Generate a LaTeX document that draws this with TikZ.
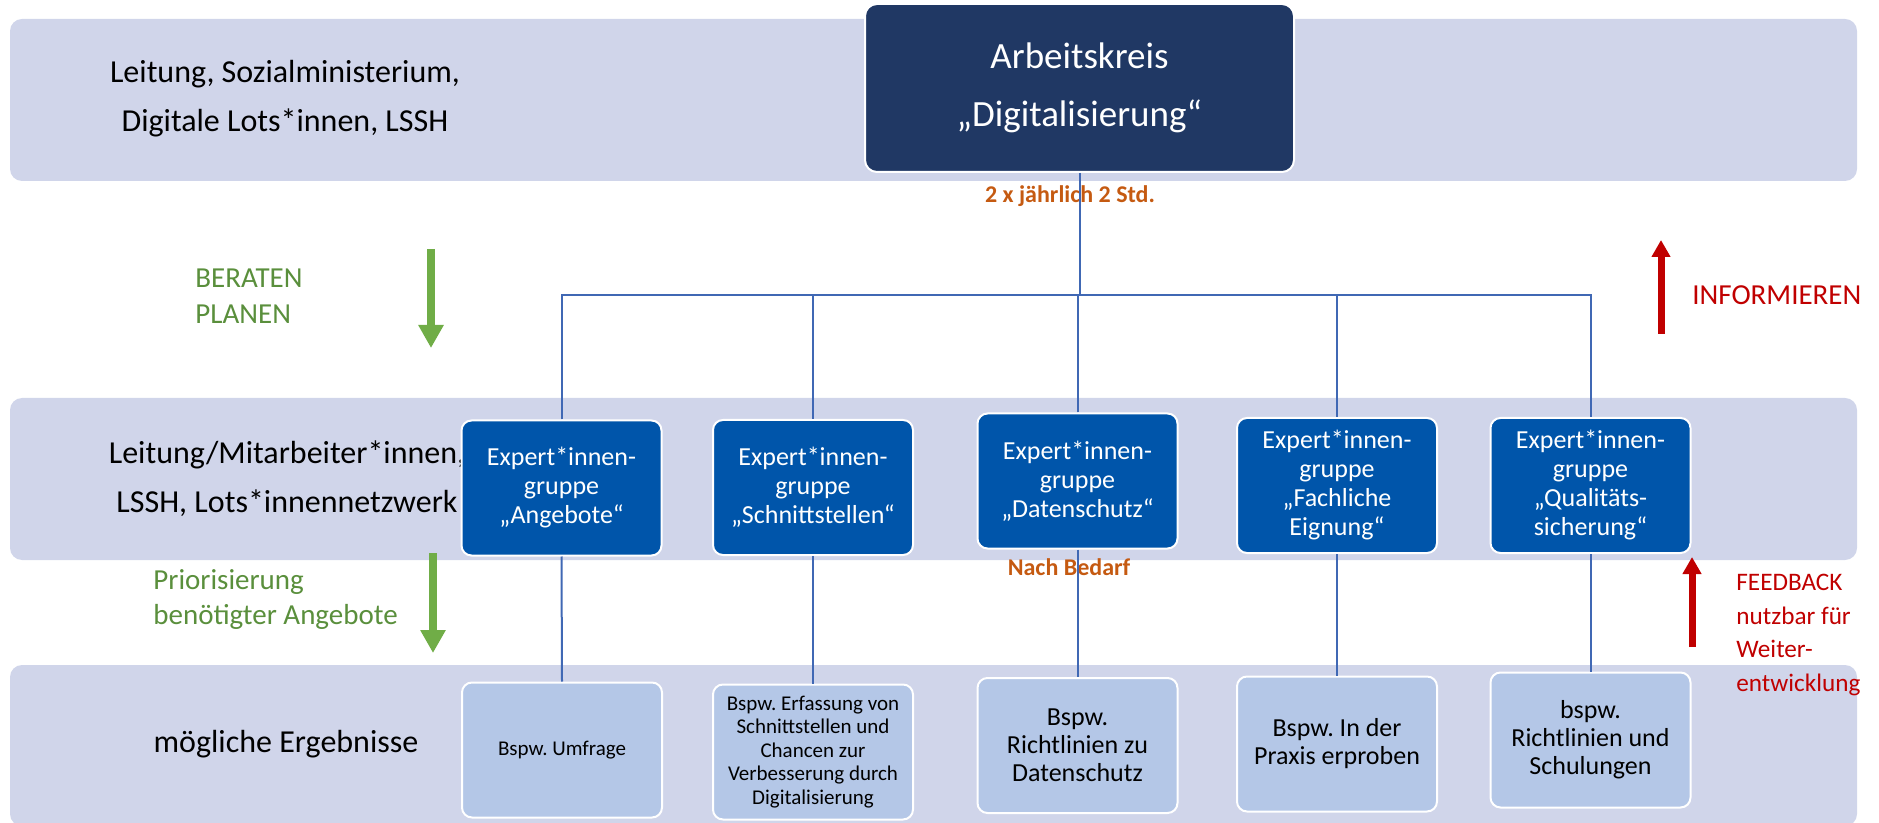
\documentclass[tikz,border=0pt]{standalone}
\usepackage{fontspec}
\setmainfont{Carlito}
\usetikzlibrary{arrows.meta}
\frenchspacing
\definecolor{bandc}{HTML}{D0D5EA}
\definecolor{akc}{HTML}{203864}
\definecolor{expc}{HTML}{0055AA}
\definecolor{resc}{HTML}{B4C7E7}
\definecolor{linec}{HTML}{4068B4}
\definecolor{greenarrow}{HTML}{70AD47}
\definecolor{greentext}{HTML}{5A8F3C}
\definecolor{redc}{HTML}{C00000}
\definecolor{orangec}{HTML}{C55A11}
\tikzset{
  band/.style={fill=bandc, draw=none, rounded corners=6pt},
  akbox/.style={fill=akc, draw=white, line width=1pt, rounded corners=6pt,
    minimum width=214.5pt, minimum height=84pt, inner sep=0pt, text=white,
    align=center, font=\fontsize{18.5}{29}\selectfont},
  expbox/.style={fill=expc, draw=white, line width=1pt, rounded corners=5pt,
    minimum width=100pt, minimum height=67.5pt, inner sep=0pt, text=white,
    align=center, font=\fontsize{13}{14.5}\selectfont},
  resbox/.style={fill=resc, draw=white, line width=1pt, rounded corners=5pt,
    minimum width=100pt, minimum height=67.5pt, inner sep=0pt, text=black,
    align=center, font=\fontsize{13}{14}\selectfont},
  ressmall/.style={font=\fontsize{10.5}{11.7}\selectfont},
  sidelabel/.style={align=center, text=black, font=\fontsize{16}{24.5}\selectfont},
  conn/.style={draw=linec, line width=1pt},
  greenlabel/.style={align=left, anchor=west, inner sep=0pt, text=greentext, font=\fontsize{14.5}{17.7}\selectfont},
  redlabel/.style={align=left, anchor=west, inner sep=0pt, text=redc, font=\fontsize{14.5}{16.7}\selectfont},
  feedlabel/.style={redlabel, font=\fontsize{12.6}{16.7}\selectfont},
  notelabel/.style={text=orangec, font=\bfseries\fontsize{12}{14}\selectfont},
  greenarr/.style={draw=greenarrow, line width=4pt, -{Triangle[width=12pt,length=11.5pt]}},
  redarr/.style={draw=redc, line width=3.5pt, -{Triangle[width=9pt,length=8.5pt]}}
}
\begin{document}
\begin{tikzpicture}[x=0.5pt, y=-0.5pt]
\useasboundingbox (0,0) rectangle (1879,823);
% bands
\fill[band] (10,19) rectangle (1857,181);
\fill[band] (10,398) rectangle (1857,560);
\fill[band] (10,665) rectangle (1857,826);

% side labels (drawn before boxes so boxes cover overhang)
\node[sidelabel] (lab1) at (285,99) {Leitung, Sozialministerium,\\Digitale Lots*innen, LSSH};
\node[sidelabel] (lab2) at (287,479) {Leitung/Mitarbeiter*innen,\\LSSH, Lots*innennetzwerk};
\node[sidelabel] (lab3) at (286,744) {mögliche Ergebnisse};

% notes
\node[notelabel] (freq) at (1070,196) {2 x jährlich 2 Std.};
\node[notelabel] (bedarf) at (1069,567) {Nach Bedarf};

% main box
\node[akbox] (ak) at (1079.5,88) {Arbeitskreis\\„Digitalisierung“};

% expert groups
\node[expbox] (e1) at (561.5,488) {Expert*innen-\\gruppe\\„Angebote“};
\node[expbox] (e2) at (813,487.5) {Expert*innen-\\gruppe\\„Schnittstellen“};
\node[expbox] (e3) at (1077.5,481) {Expert*innen-\\gruppe\\„Datenschutz“};
\node[expbox] (e4) at (1337,485.5) {Expert*innen-\\gruppe\\„Fachliche\\Eignung“};
\node[expbox] (e5) at (1590.5,485.5) {Expert*innen-\\gruppe\\„Qualitäts-\\sicherung“};

% results
\node[resbox, ressmall] (r1) at (562,750) {Bspw. Umfrage};
\node[resbox, ressmall] (r2) at (813,752) {Bspw. Erfassung von\\Schnittstellen und\\Chancen zur\\Verbesserung durch\\Digitalisierung};
\node[resbox] (r3) at (1077.5,745.5) {Bspw.\\Richtlinien zu\\Datenschutz};
\node[resbox] (r4) at (1337,744) {Bspw. In der\\Praxis erproben};
\node[resbox] (r5) at (1590.5,740) {bspw.\\Richtlinien und\\Schulungen};

% connectors
\coordinate (hub) at (1079.5,295);
\draw[conn] (ak.south) -- (hub);
\draw[conn] (e1.north) |- (hub) -| (e5.north);
\draw[conn] (e2.north) -- (e2.north |- hub);
\draw[conn] (e3.north) -- (e3.north |- hub);
\draw[conn] (e4.north) -- (e4.north |- hub);
\draw[conn] (e1.south) -- (r1.north);
\draw[conn] (e2.south) -- (r2.north);
\draw[conn] (e3.south) -- (r3.north);
\draw[conn] (e4.south) -- (r4.north);
\draw[conn] (e5.south) -- (r5.north);

% green arrows and labels
\coordinate (g1s) at (431,249);
\coordinate (g1e) at (431,348);
\coordinate (g2s) at (433,553);
\coordinate (g2e) at (433,653);
\draw[greenarr] (g1s) -- (g1e);
\draw[greenarr] (g2s) -- (g2e);
\node[greenlabel] (beraten) at (195,296) {BERATEN\\PLANEN};
\node[greenlabel] (prio) at (153,599.5) {Priorisierung\\benötigter Angebote};

% red arrows and labels
\coordinate (i1s) at (1661,334);
\coordinate (i1e) at (1661,240);
\coordinate (i2s) at (1692,647);
\coordinate (i2e) at (1692,557);
\draw[redarr] (i1s) -- (i1e);
\draw[redarr] (i2s) -- (i2e);
\node[redlabel] (inform) at (1692,295) {INFORMIEREN};
\node[feedlabel] (feedback) at (1736,635) {FEEDBACK\\nutzbar für\\Weiter-\\entwicklung};
\end{tikzpicture}
\end{document}
